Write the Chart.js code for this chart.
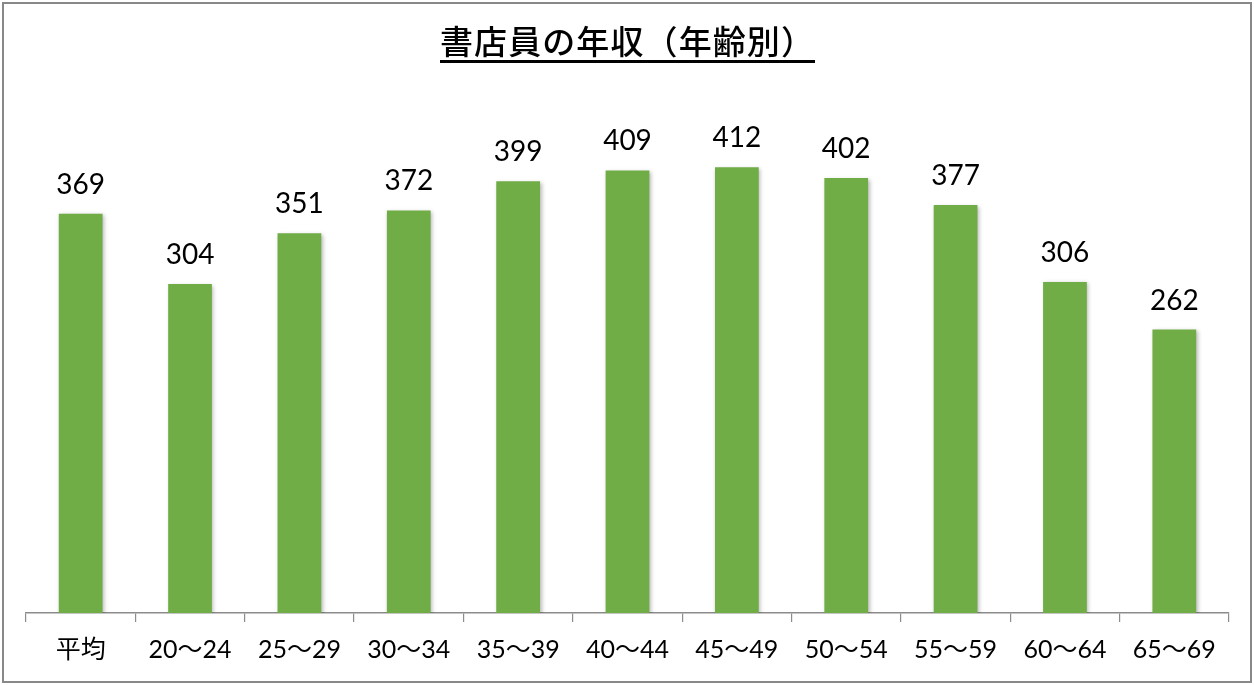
<!DOCTYPE html>
<html>
<head>
<meta charset="utf-8">
<script src="https://cdn.jsdelivr.net/npm/chart.js@4.4.1/dist/chart.umd.min.js"></script>
<style>
  html, body { margin: 0; padding: 0; background: #ffffff; }
  #wrap { position: relative; width: 1254px; height: 685px; }
  canvas { display: block; }
</style>
</head>
<body>
<div id="wrap"><canvas id="c" width="1254" height="685"></canvas></div>
<script>
const TITLE = '書店員の年収（年齢別）';
const categories = ['平均', '20～24', '25～29', '30～34', '35～39', '40～44', '45～49', '50～54', '55～59', '60～64', '65～69'];
const incomes = [369, 304, 351, 372, 399, 409, 412, 402, 377, 306, 262];
const yMin = 0;
const yMax = 500;

const BAR_COLOR = '#70AD47';
const LATIN = 'Lato, "Noto Sans CJK JP", sans-serif';

const framePlugin = {
  id: 'frame',
  beforeDraw(chart) {
    const ctx = chart.ctx;
    ctx.save();
    ctx.fillStyle = '#ffffff';
    ctx.fillRect(0, 0, chart.width, chart.height);
    ctx.restore();
  },
  afterDraw(chart) {
    const ctx = chart.ctx;
    ctx.save();
    ctx.strokeStyle = '#888888';
    ctx.lineWidth = 2;
    ctx.strokeRect(3, 3, 1248, 679);
    ctx.font = '500 33px "Noto Sans CJK JP", sans-serif';
    ctx.fillStyle = '#000000';
    ctx.textBaseline = 'middle';
    ctx.textAlign = 'left';
    const targetW = 375;
    const chars = Array.from(TITLE);
    const widths = chars.map(c => ctx.measureText(c).width);
    const natural = widths.reduce((a, b) => a + b, 0);
    const gap = (targetW - natural) / chars.length;
    let x = 627.5 - targetW / 2;
    const x0 = x;
    chars.forEach((c, i) => {
      ctx.fillText(c, x, 41);
      x += widths[i] + gap;
    });
    ctx.fillRect(x0, 60, targetW, 3);
    ctx.restore();
  }
};

const barPlugin = {
  id: 'barDeco',
  beforeDatasetsDraw(chart) {
    const ctx = chart.ctx;
    ctx.save();
    ctx.shadowColor = 'rgba(0,0,0,0.28)';
    ctx.shadowBlur = 4;
    ctx.shadowOffsetX = 1.5;
    ctx.shadowOffsetY = 1.5;
  },
  afterDatasetsDraw(chart) {
    const ctx = chart.ctx;
    ctx.restore();
    ctx.save();
    ctx.font = 'normal 28px ' + LATIN;
    ctx.fillStyle = '#000000';
    ctx.textAlign = 'center';
    ctx.textBaseline = 'alphabetic';
    const meta = chart.getDatasetMeta(0);
    meta.data.forEach((bar, i) => {
      const v = chart.data.datasets[0].data[i];
      ctx.fillText(String(v), bar.x, bar.y - 20);
    });
    ctx.restore();
  }
};

new Chart(document.getElementById('c'), {
  type: 'bar',
  data: {
    labels: categories,
    datasets: [{
      data: incomes,
      backgroundColor: BAR_COLOR,
      borderWidth: 0,
      categoryPercentage: 1.0,
      barPercentage: 0.4
    }]
  },
  options: {
    responsive: false,
    animation: false,
    devicePixelRatio: 1,
    layout: { padding: { left: 26, right: 25, top: 72, bottom: 7 } },
    plugins: {
      legend: { display: false },
      title: { display: false },
      tooltip: { enabled: false }
    },
    scales: {
      x: {
        grid: {
          display: true,
          offset: true,
          drawOnChartArea: false,
          drawTicks: true,
          tickLength: 9,
          color: '#8c8c8c',
          lineWidth: 1.2
        },
        border: { display: true, color: '#8c8c8c', width: 1.6 },
        ticks: {
          color: '#000000',
          font: { family: LATIN, size: 25 },
          padding: 13,
          maxRotation: 0,
          autoSkip: false
        }
      },
      y: {
        display: false,
        min: yMin,
        max: yMax
      }
    }
  },
  plugins: [framePlugin, barPlugin]
});
</script>
</body>
</html>
